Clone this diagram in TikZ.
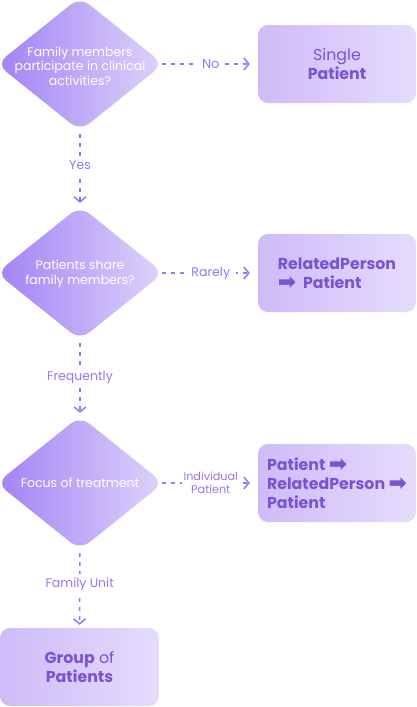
\documentclass[tikz,border=0pt]{standalone}
\usepackage{fontspec}
\setmainfont{Poppins}
\newfontfamily\arrowfont{DejaVu Sans}
\usetikzlibrary{shapes.geometric,arrows.meta}
\definecolor{dleft}{HTML}{A282F4}
\definecolor{dright}{HTML}{DED3FB}
\definecolor{bleft}{HTML}{CEBBF8}
\definecolor{bright}{HTML}{E5DCFC}
\definecolor{btext}{HTML}{7B52D2}
\definecolor{acol}{HTML}{9C74F0}
\newcommand{\harr}{\smash{\raisebox{-1.5pt}{\fontsize{22}{22}\arrowfont\bfseries ➡}}}
\begin{document}
\begin{tikzpicture}[x=1pt,y=-1pt,
  decision/.style={diamond, inner sep=0pt, minimum width=167pt, minimum height=134pt,
    rounded corners=12pt, left color=dleft, right color=dright, draw=none},
  textin/.style={text=white, align=center, font=\fontsize{12.5}{14.5}\selectfont, inner sep=0pt},
  outcome/.style={rectangle, rounded corners=10pt, minimum width=158pt, minimum height=78pt,
    left color=bleft, right color=bright, draw=none, text=btext, inner sep=0pt,
    font=\fontsize{15.8}{19}\selectfont},
  flow/.style={draw=acol, line width=1.5pt, dash pattern=on 4pt off 5pt,
    -{Straight Barb[length=5pt,width=12pt,line width=1.5pt]}},
  hflow/.style={flow, shorten <=-2pt, shorten >=8pt},
  vflow/.style={flow, shorten <=3pt, shorten >=3pt},
  lbl/.style={fill=white, text=acol, inner xsep=6pt, inner ysep=4pt, solid,
    font=\fontsize{12.5}{14}\selectfont}]
\useasboundingbox (0,0) rectangle (417,707);

\node[decision] (d1) at (80,64) {};
\node[textin] (t1) at (80,66) {Family members\\participate in clinical\\activities?};
\node[decision] (d2) at (80,273) {};
\node[textin] (t2) at (80,274) {Patients share\\family members?};
\node[decision] (d3) at (80,483) {};
\node[textin] (t3) at (d3) {Focus of treatment};

\node[outcome, align=center] (b1) at (337,64) {Single\\\bfseries Patient};
\node[outcome, align=left] (b2) at (337,273) {\bfseries RelatedPerson\\\bfseries\harr\ \ Patient};
\node[outcome, align=left] (b3) at (337,483) {\bfseries Patient \harr\\\bfseries RelatedPerson \harr\\\bfseries Patient};
\node[outcome, align=center, minimum width=159pt] (b4) at (79.5,667) {\textbf{Group} of\\\bfseries Patients};

\draw[hflow] (d1.east) -- node[lbl, font=\fontsize{13}{15}\selectfont] {No} (b1.west);
\draw[vflow] (d1.south) -- node[lbl, yshift=3pt] {Yes} (d2.north);
\draw[hflow] (d2.east) -- node[lbl] {Rarely} (b2.west);
\draw[vflow] (d2.south) -- node[lbl, yshift=1pt] {Frequently} (d3.north);
\draw[hflow] (d3.east) -- node[lbl, inner xsep=2pt, inner ysep=1pt, align=center,
  font=\fontsize{11.2}{12.7}\selectfont] {Individual\\Patient} (b3.west);
\draw[vflow] (d3.south) -- node[lbl, yshift=5pt] {Family Unit} (b4.north);
\end{tikzpicture}
\end{document}
